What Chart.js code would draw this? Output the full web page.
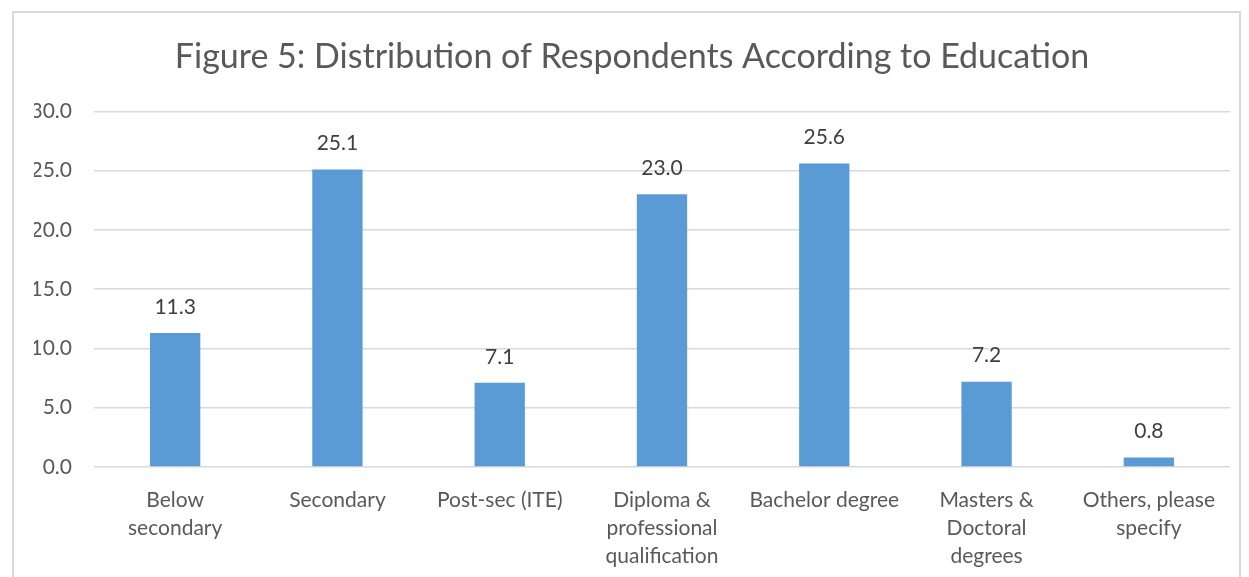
<!DOCTYPE html>
<html>
<head>
<meta charset="utf-8">
<script src="https://cdn.jsdelivr.net/npm/chart.js@4/dist/chart.umd.min.js"></script>
<style>
  html, body { margin: 0; padding: 0; background: #fff; overflow: hidden; }
  #frame { position: absolute; left: 12px; top: 11px; width: 1229px; height: 600px; border: 2px solid #d9d9d9; box-sizing: border-box; }
  #wrap { position: absolute; left: 0; top: 0; width: 1249px; height: 577px; }
</style>
</head>
<body>
<div id="frame"></div>
<div id="wrap"><canvas id="chart" width="1249" height="577"></canvas></div>
<script>
// education categories and share of respondents (%)
const categories = [
  ['Below', 'secondary'],
  'Secondary',
  'Post-sec (ITE)',
  ['Diploma &', 'professional', 'qualification'],
  'Bachelor degree',
  ['Masters &', 'Doctoral', 'degrees'],
  ['Others, please', 'specify']
];
const values = [11.3, 25.1, 7.1, 23.0, 25.6, 7.2, 0.8];
const yTicks = [0, 5, 10, 15, 20, 25, 30];

const fontFamily = 'Lato, Carlito, Calibri, sans-serif';

// value labels above each bar
const barLabels = {
  id: 'barLabels',
  afterDatasetsDraw(chart) {
    const ctx = chart.ctx;
    const meta = chart.getDatasetMeta(0);
    ctx.save();
    ctx.fillStyle = '#404040';
    ctx.font = '21px ' + fontFamily;
    ctx.textAlign = 'center';
    ctx.textBaseline = 'middle';
    meta.data.forEach((bar, i) => {
      ctx.fillText(values[i].toFixed(1), bar.x, bar.y - 26);
    });
    ctx.restore();
  }
};

new Chart(document.getElementById('chart'), {
  type: 'bar',
  data: {
    labels: categories,
    datasets: [{
      data: values,
      backgroundColor: '#5b9bd5',
      barPercentage: 0.62,
      categoryPercentage: 0.5
    }]
  },
  options: {
    responsive: false,
    animation: false,
    layout: { padding: { left: 34, right: 19, top: 20, bottom: 0 } },
    plugins: {
      legend: { display: false },
      tooltip: { enabled: false },
      title: {
        display: true,
        text: 'Figure 5: Distribution of Respondents According to Education',
        color: '#595959',
        font: { family: fontFamily, size: 34, weight: 'normal' },
        padding: { top: 17, bottom: 33.5 }
      }
    },
    scales: {
      x: {
        grid: { display: false },
        border: { display: false },
        ticks: {
          color: '#595959',
          font: { family: fontFamily, size: 21, lineHeight: '28px' },
          padding: 11,
          maxRotation: 0,
          autoSkip: false
        },
        afterFit(scale) { scale.height = 110; }
      },
      y: {
        min: 0,
        max: 30,
        afterBuildTicks(scale) { scale.ticks = yTicks.map(v => ({ value: v })); },
        grid: { color: '#d9d9d9', lineWidth: 1.5, drawTicks: false },
        border: { display: false },
        ticks: {
          color: '#595959',
          font: { family: fontFamily, size: 21 },
          padding: 22,
          callback: v => v.toFixed(1)
        },
        afterFit(scale) { scale.width = 60; }
      }
    }
  },
  plugins: [barLabels]
});
</script>
</body>
</html>
